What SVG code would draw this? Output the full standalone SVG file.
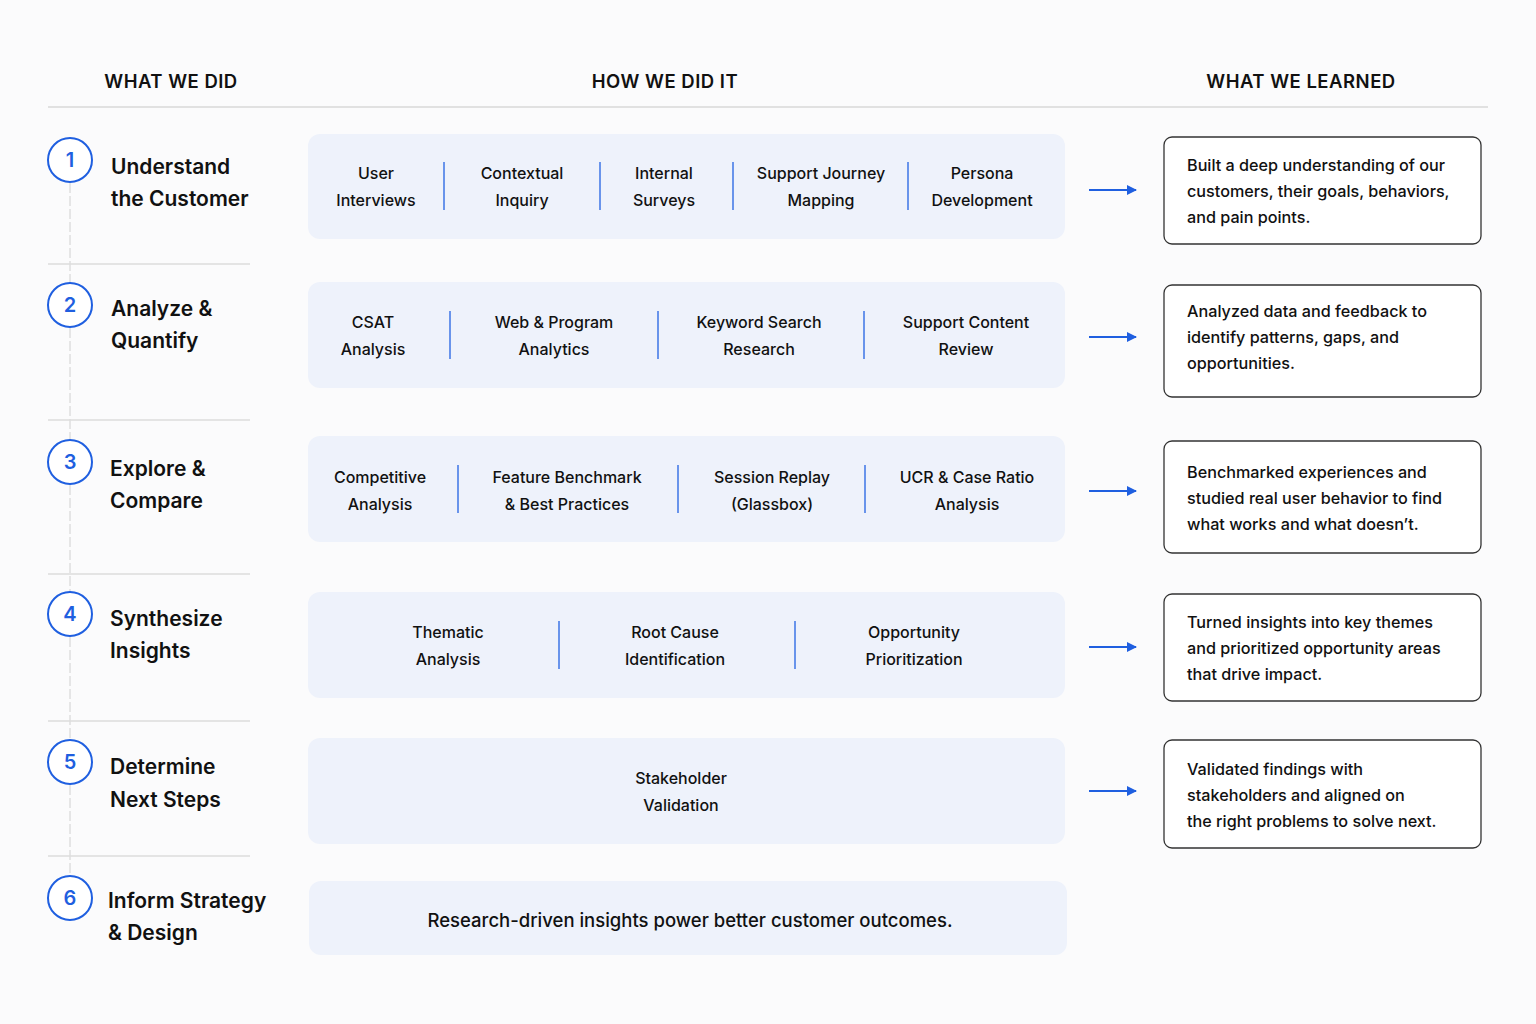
<svg xmlns="http://www.w3.org/2000/svg" width="1536" height="1024" viewBox="0 0 1536 1024">
<defs>
<marker id="ah" markerWidth="10" markerHeight="10" refX="9" refY="5" orient="auto" markerUnits="userSpaceOnUse">
<path d="M0,0 L10,5 L0,10 Z" fill="#1f5fe0"/>
</marker>
<style>
text{font-family:Inter,"Noto Sans","Liberation Sans",sans-serif;fill:#111;dominant-baseline:central}
.hdr{font-size:18.5px;font-weight:600;text-anchor:middle;letter-spacing:0.5px}
.num{font-size:20px;font-weight:600;fill:#1f5fe0;text-anchor:middle}
.ttl{font-size:21px;font-weight:600}
.m{font-size:16px;font-weight:500;text-anchor:middle}
.r{font-size:16.2px;font-weight:500}
.circ{fill:#fff;stroke:#1f5fe0;stroke-width:2}
.band{fill:#eef2fb}
.div{stroke:#3c74e6;stroke-width:1.5}
.out{fill:#fff;stroke:#333;stroke-width:1.3}
.sep{stroke:#dcdcdc;stroke-width:1.5}
.vl{stroke:#d8d8d8;stroke-width:1.2;stroke-dasharray:10 3}
.arr{stroke:#1f5fe0;stroke-width:1.8;fill:none}
</style>
</defs>
<rect width="1536" height="1024" fill="#fbfbfc"/>
<g id="headers">
<text class="hdr" x="171" y="81">WHAT WE DID</text>
<text class="hdr" x="665" y="81">HOW WE DID IT</text>
<text class="hdr" x="1301" y="81">WHAT WE LEARNED</text>
<line x1="48" y1="107" x2="1488" y2="107" stroke="#d9d9d9" stroke-width="1.5"/>
</g>
<g id="timeline">
<line class="vl" x1="70" y1="183" x2="70" y2="283"/>
<line class="vl" x1="70" y1="328" x2="70" y2="440"/>
<line class="vl" x1="70" y1="485" x2="70" y2="592"/>
<line class="vl" x1="70" y1="637" x2="70" y2="740"/>
<line class="vl" x1="70" y1="785" x2="70" y2="876"/>
<line class="sep" x1="48" y1="264" x2="250" y2="264"/>
<line class="sep" x1="48" y1="420" x2="250" y2="420"/>
<line class="sep" x1="48" y1="574" x2="250" y2="574"/>
<line class="sep" x1="48" y1="721" x2="250" y2="721"/>
<line class="sep" x1="48" y1="856" x2="250" y2="856"/>
</g>
<g id="step1">
<circle class="circ" cx="70" cy="160" r="22"/><text class="num" x="70" y="160">1</text>
<text class="ttl" x="111" y="166">Understand</text><text class="ttl" x="111" y="198">the Customer</text>
</g>
<g id="step2">
<circle class="circ" cx="70" cy="305" r="22"/><text class="num" x="70" y="305">2</text>
<text class="ttl" x="111" y="308">Analyze &amp;</text><text class="ttl" x="111" y="340">Quantify</text>
</g>
<g id="step3">
<circle class="circ" cx="70" cy="462" r="22"/><text class="num" x="70" y="462">3</text>
<text class="ttl" x="110" y="468">Explore &amp;</text><text class="ttl" x="110" y="500">Compare</text>
</g>
<g id="step4">
<circle class="circ" cx="70" cy="614" r="22"/><text class="num" x="70" y="614">4</text>
<text class="ttl" x="110" y="618">Synthesize</text><text class="ttl" x="110" y="650">Insights</text>
</g>
<g id="step5">
<circle class="circ" cx="70" cy="762" r="22"/><text class="num" x="70" y="762">5</text>
<text class="ttl" x="110" y="766">Determine</text><text class="ttl" x="110" y="799">Next Steps</text>
</g>
<g id="step6">
<circle class="circ" cx="70" cy="898" r="22"/><text class="num" x="70" y="898">6</text>
<text class="ttl" x="108" y="900">Inform Strategy</text><text class="ttl" x="108" y="932">&amp; Design</text>
</g>
<g id="methods1">
<rect class="band" x="308" y="134" width="757" height="105" rx="12"/>
<line class="div" x1="444" y1="162" x2="444" y2="210"/><line class="div" x1="600" y1="162" x2="600" y2="210"/><line class="div" x1="733" y1="162" x2="733" y2="210"/><line class="div" x1="908" y1="162" x2="908" y2="210"/>
<text class="m" x="376" y="173">User</text><text class="m" x="376" y="200">Interviews</text>
<text class="m" x="522" y="173">Contextual</text><text class="m" x="522" y="200">Inquiry</text>
<text class="m" x="664" y="173">Internal</text><text class="m" x="664" y="200">Surveys</text>
<text class="m" x="821" y="173">Support Journey</text><text class="m" x="821" y="200">Mapping</text>
<text class="m" x="982" y="173">Persona</text><text class="m" x="982" y="200">Development</text>
</g>
<g id="methods2">
<rect class="band" x="308" y="282" width="757" height="106" rx="12"/>
<line class="div" x1="450" y1="311" x2="450" y2="359"/><line class="div" x1="658" y1="311" x2="658" y2="359"/><line class="div" x1="864" y1="311" x2="864" y2="359"/>
<text class="m" x="373" y="322">CSAT</text><text class="m" x="373" y="349">Analysis</text>
<text class="m" x="554" y="322">Web &amp; Program</text><text class="m" x="554" y="349">Analytics</text>
<text class="m" x="759" y="322">Keyword Search</text><text class="m" x="759" y="349">Research</text>
<text class="m" x="966" y="322">Support Content</text><text class="m" x="966" y="349">Review</text>
</g>
<g id="methods3">
<rect class="band" x="308" y="436" width="757" height="106" rx="12"/>
<line class="div" x1="458" y1="465" x2="458" y2="513"/><line class="div" x1="678" y1="465" x2="678" y2="513"/><line class="div" x1="865" y1="465" x2="865" y2="513"/>
<text class="m" x="380" y="477">Competitive</text><text class="m" x="380" y="504">Analysis</text>
<text class="m" x="567" y="477">Feature Benchmark</text><text class="m" x="567" y="504">&amp; Best Practices</text>
<text class="m" x="772" y="477">Session Replay</text><text class="m" x="772" y="504">(Glassbox)</text>
<text class="m" x="967" y="477">UCR &amp; Case Ratio</text><text class="m" x="967" y="504">Analysis</text>
</g>
<g id="methods4">
<rect class="band" x="308" y="592" width="757" height="106" rx="12"/>
<line class="div" x1="559" y1="621" x2="559" y2="669"/><line class="div" x1="795" y1="621" x2="795" y2="669"/>
<text class="m" x="448" y="632">Thematic</text><text class="m" x="448" y="659">Analysis</text>
<text class="m" x="675" y="632">Root Cause</text><text class="m" x="675" y="659">Identification</text>
<text class="m" x="914" y="632">Opportunity</text><text class="m" x="914" y="659">Prioritization</text>
</g>
<g id="methods5">
<rect class="band" x="308" y="738" width="757" height="106" rx="12"/>
<text class="m" x="681" y="778">Stakeholder</text><text class="m" x="681" y="805">Validation</text>
</g>
<g id="methods6">
<rect class="band" x="309" y="881" width="758" height="74" rx="12"/>
<text class="m" x="690" y="920" style="font-size:18.5px">Research-driven insights power better customer outcomes.</text>
</g>
<g id="connectors">
<line class="arr" x1="1089" y1="190" x2="1136" y2="190" marker-end="url(#ah)"/>
<line class="arr" x1="1089" y1="337" x2="1136" y2="337" marker-end="url(#ah)"/>
<line class="arr" x1="1089" y1="491" x2="1136" y2="491" marker-end="url(#ah)"/>
<line class="arr" x1="1089" y1="647" x2="1136" y2="647" marker-end="url(#ah)"/>
<line class="arr" x1="1089" y1="791" x2="1136" y2="791" marker-end="url(#ah)"/>
</g>
<g id="learned1">
<rect class="out" x="1164" y="137" width="317" height="107" rx="8"/>
<text class="r" x="1187" y="165">Built a deep understanding of our</text>
<text class="r" x="1187" y="191">customers, their goals, behaviors,</text>
<text class="r" x="1187" y="217">and pain points.</text>
</g>
<g id="learned2">
<rect class="out" x="1164" y="285" width="317" height="112" rx="8"/>
<text class="r" x="1187" y="311">Analyzed data and feedback to</text>
<text class="r" x="1187" y="337">identify patterns, gaps, and</text>
<text class="r" x="1187" y="363">opportunities.</text>
</g>
<g id="learned3">
<rect class="out" x="1164" y="441" width="317" height="112" rx="8"/>
<text class="r" x="1187" y="472">Benchmarked experiences and</text>
<text class="r" x="1187" y="498">studied real user behavior to find</text>
<text class="r" x="1187" y="524">what works and what doesn’t.</text>
</g>
<g id="learned4">
<rect class="out" x="1164" y="594" width="317" height="107" rx="8"/>
<text class="r" x="1187" y="622">Turned insights into key themes</text>
<text class="r" x="1187" y="648">and prioritized opportunity areas</text>
<text class="r" x="1187" y="674">that drive impact.</text>
</g>
<g id="learned5">
<rect class="out" x="1164" y="740" width="317" height="108" rx="8"/>
<text class="r" x="1187" y="769">Validated findings with</text>
<text class="r" x="1187" y="795">stakeholders and aligned on</text>
<text class="r" x="1187" y="821">the right problems to solve next.</text>
</g>
</svg>
